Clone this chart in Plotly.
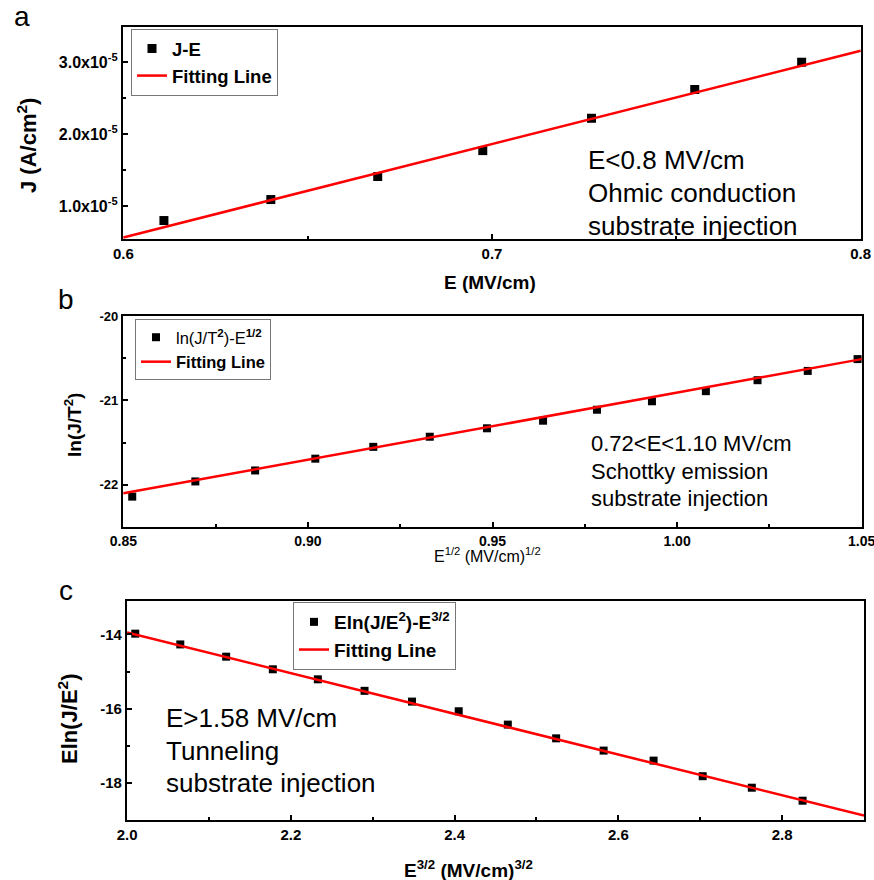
import plotly.graph_objects as go

# ---------------- data ----------------
# panel a : J-E (Ohmic)
a_E = [0.611, 0.640, 0.669, 0.6975, 0.727, 0.755, 0.784]
a_J = [0.797e-5, 1.089e-5, 1.41e-5, 1.77e-5, 2.22e-5, 2.62e-5, 3.00e-5]
a_fit_E = [0.6, 0.8]
a_fit_J = [0.561e-5, 3.16e-5]
a_yticks = [1e-5, 2e-5, 3e-5]
a_yticktext = ["1.0x10<sup>-5</sup>", "2.0x10<sup>-5</sup>", "3.0x10<sup>-5</sup>"]
a_xticks = [0.6, 0.7, 0.8]
a_xticktext = ["0.6", "0.7", "0.8"]

# panel b : Schottky
b_x = [0.8524, 0.8695, 0.8857, 0.902, 0.9177, 0.933, 0.9485, 0.9637,
       0.9783, 0.9932, 1.0078, 1.0218, 1.0354, 1.0489]
b_y = [-22.14, -21.96, -21.83, -21.69, -21.55, -21.43, -21.33, -21.24,
       -21.11, -21.01, -20.89, -20.76, -20.65, -20.51]
b_fit_x = [0.85, 1.05]
b_fit_y = [-22.10, -20.51]
b_xticks = [0.85, 0.90, 0.95, 1.00, 1.05]
b_xticktext = ["0.85", "0.90", "0.95", "1.00", "1.05"]
b_yticks = [-22, -21, -20]
b_yticktext = ["-22", "-21", "-20"]

# panel c : Tunneling
c_x = [2.010, 2.065, 2.121, 2.178, 2.233, 2.290, 2.348, 2.405,
       2.465, 2.524, 2.582, 2.643, 2.703, 2.763, 2.825]
c_y = [-13.98, -14.27, -14.60, -14.94, -15.21, -15.52, -15.81, -16.07,
       -16.43, -16.80, -17.13, -17.40, -17.82, -18.13, -18.48]
c_fit_x = [2.0, 2.9]
c_fit_y = [-13.95, -18.88]
c_xticks = [2.0, 2.2, 2.4, 2.6, 2.8]
c_xticktext = ["2.0", "2.2", "2.4", "2.6", "2.8"]
c_yticks = [-18, -16, -14]
c_yticktext = ["-18", "-16", "-14"]

# ---------------- layout helpers ----------------
W, H = 874, 880
def fx(p):
    return p / W
def fy(p):
    return 1 - p / H

SANS = "Liberation Sans, Arial, sans-serif"
RED = "#ff0000"

fig = go.Figure()

# panel a
fig.add_trace(go.Scatter(x=a_E, y=a_J, mode="markers", name="<b>J-E</b>",
                         marker=dict(symbol="square", size=9, color="black"),
                         xaxis="x", yaxis="y", legend="legend"))
fig.add_trace(go.Scatter(x=a_fit_E, y=a_fit_J, mode="lines", name="<b>Fitting Line</b>",
                         line=dict(color=RED, width=2.5),
                         xaxis="x", yaxis="y", legend="legend"))
# panel b
fig.add_trace(go.Scatter(x=b_x, y=b_y, mode="markers",
                         name="ln(J/T<sup><b>2</b></sup>)-E<sup><b>1/2</b></sup>",
                         marker=dict(symbol="square", size=8, color="black"),
                         xaxis="x2", yaxis="y2", legend="legend2"))
fig.add_trace(go.Scatter(x=b_fit_x, y=b_fit_y, mode="lines", name="<b>Fitting Line</b>",
                         line=dict(color=RED, width=2.5),
                         xaxis="x2", yaxis="y2", legend="legend2"))
# panel c
fig.add_trace(go.Scatter(x=c_x, y=c_y, mode="markers",
                         name="<b>Eln(J/E<sup>2</sup>)-E<sup>3/2</sup></b>",
                         marker=dict(symbol="square", size=8, color="black"),
                         xaxis="x3", yaxis="y3", legend="legend3"))
fig.add_trace(go.Scatter(x=c_fit_x, y=c_fit_y, mode="lines", name="<b>Fitting Line</b>",
                         line=dict(color=RED, width=2.5),
                         xaxis="x3", yaxis="y3", legend="legend3"))

def axis_style(domain, rng, tickvals, ticktext, minor_vals, font, anchor):
    return dict(domain=domain, range=rng, tickmode="array", tickvals=tickvals,
                ticktext=ticktext, automargin=False, ticklabeloverflow="allow",
                showline=True, linecolor="black", linewidth=2.2, mirror=True,
                ticks="inside", ticklen=5, tickwidth=1.8, tickcolor="black",
                showgrid=False, zeroline=False, anchor=anchor,
                tickfont=font,
                minor=dict(tickmode="array", tickvals=minor_vals, ticks="inside",
                           ticklen=3, tickwidth=1.5, tickcolor="black", showgrid=False))

def tf(size):
    return dict(family=SANS, size=size, color="black", weight="bold")

layout = dict(
    width=W, height=H, margin=dict(l=0, r=0, t=0, b=0, autoexpand=False),
    paper_bgcolor="white", plot_bgcolor="white", showlegend=True,
    xaxis=axis_style([fx(123), fx(861)], [0.5999, 0.8001], a_xticks, a_xticktext,
                     [0.65, 0.75], tf(15), "y"),
    yaxis=axis_style([fy(239), fy(27)], [0.54e-5, 3.49e-5], a_yticks, a_yticktext,
                     [1.5e-5, 2.5e-5], tf(16), "x"),
    xaxis2=axis_style([fx(123), fx(862)], [0.8499, 1.0501], b_xticks, b_xticktext,
                      [0.875, 0.925, 0.975, 1.025], tf(14), "y2"),
    yaxis2=axis_style([fy(527), fy(316)], [-22.5, -19.999], b_yticks, b_yticktext,
                      [-21.5, -20.5], tf(13), "x2"),
    xaxis3=axis_style([fx(127), fx(864)], [1.9999, 2.9], c_xticks, c_xticktext,
                      [2.1, 2.3, 2.5, 2.7], tf(15), "y3"),
    yaxis3=axis_style([fy(820), fy(601)], [-19, -13.1], c_yticks, c_yticktext,
                      [-17, -15], tf(15), "x3"),
    legend=dict(x=fx(131), y=fy(29), xanchor="left", yanchor="top",
                bgcolor="white", bordercolor="#777", borderwidth=1,
                font=dict(family=SANS, size=18.5, color="black"), tracegroupgap=0),
    legend2=dict(x=fx(135), y=fy(319), xanchor="left", yanchor="top",
                 bgcolor="white", bordercolor="#777", borderwidth=1,
                 font=dict(family=SANS, size=16.5, color="black"), tracegroupgap=0),
    legend3=dict(x=fx(293), y=fy(602), xanchor="left", yanchor="top",
                 bgcolor="white", bordercolor="#777", borderwidth=1,
                 font=dict(family=SANS, size=19, color="black"), tracegroupgap=0),
)
fig.update_layout(**layout)

ann = []
def txt(x, y, s, size, bold=False, angle=0, xanchor="center"):
    ann.append(dict(x=fx(x), y=fy(y), xref="paper", yref="paper", text=s,
                    showarrow=False, xanchor=xanchor, yanchor="middle",
                    textangle=angle,
                    font=dict(family=SANS, size=size, color="black",
                              weight="bold" if bold else "normal")))

# panel letters
txt(22, 17, "a", 28)
txt(66, 299, "b", 28)
txt(66, 590, "c", 28)

# axis titles
txt(27, 146, "J (A/cm<sup>2</sup>)", 22, bold=True, angle=-90)
txt(490, 282, "E (MV/cm)", 19, bold=True)
txt(73, 425, "ln(J/T<sup>2</sup>)", 19, bold=True, angle=-90)
txt(487, 555, "E<sup>1/2</sup> (MV/cm)<sup>1/2</sup>", 16)
txt(68, 719, "Eln(J/E<sup>2</sup>)", 22, bold=True, angle=-90)
txt(468, 869, "E<sup>3/2</sup> (MV/cm)<sup>3/2</sup>", 19, bold=True)

# condition texts
for yy, s in zip([160, 193, 226], ["E<0.8 MV/cm", "Ohmic conduction", "substrate injection"]):
    txt(586, yy, s, 26, xanchor="left")
for yy, s in zip([443, 471, 498], ["0.72<E<1.10 MV/cm", "Schottky emission", "substrate injection"]):
    txt(589, yy, s, 22, xanchor="left")
for yy, s in zip([718, 751, 783], ["E>1.58 MV/cm", "Tunneling", "substrate injection"]):
    txt(164, yy, s, 26, xanchor="left")

fig.update_layout(annotations=ann)
fig.write_html("out.html")
